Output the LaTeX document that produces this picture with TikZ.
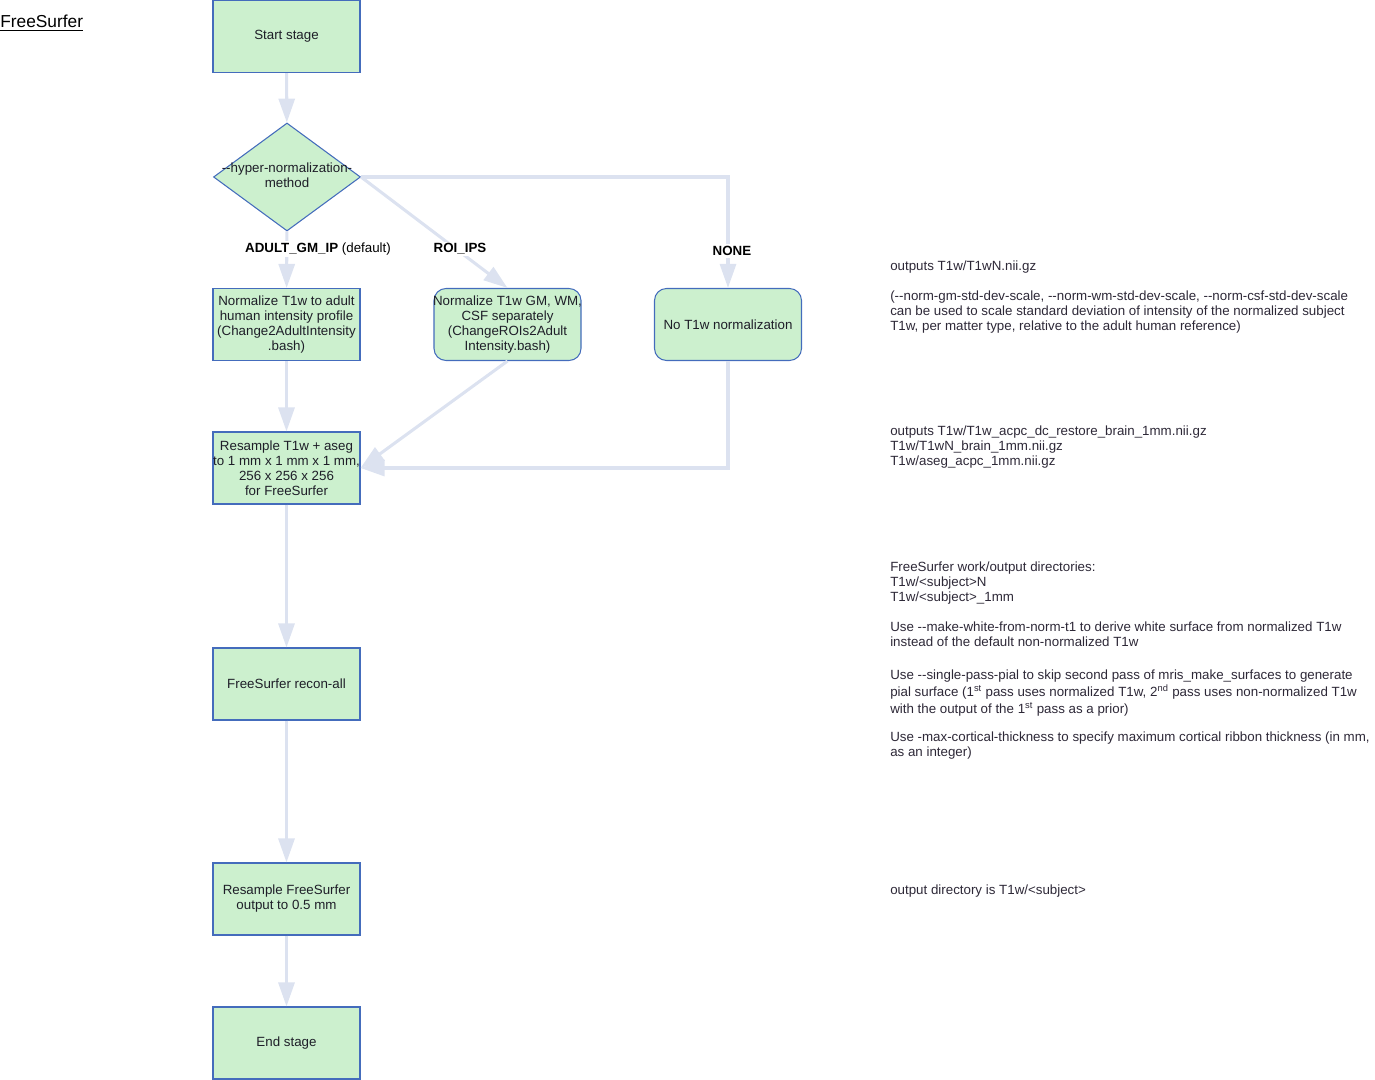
\documentclass[tikz,border=0pt]{standalone}
\usepackage{fontspec}
\setmainfont[Ligatures=TeXOff]{Liberation Sans}
\usetikzlibrary{arrows.meta,shapes.geometric}
\definecolor{boxfill}{RGB}{204,240,206}
\definecolor{boxline}{RGB}{68,108,188}
\definecolor{arr}{RGB}{220,226,240}
\definecolor{txt}{RGB}{30,30,40}
\definecolor{notetxt}{RGB}{45,40,55}
\newcommand\bxfont{\fontsize{10pt}{11.25pt}\selectfont}
\newcommand\ntfont{\fontsize{10pt}{11.25pt}\selectfont}
\begin{document}
\begin{tikzpicture}[x=0.75pt,y=-0.75pt,
  box/.style={draw=boxline, fill=boxfill, line width=0.8pt,
    minimum width=110.25pt, minimum height=54pt, inner xsep=-4pt, inner ysep=0pt,
    align=center, font=\bxfont, text=txt},
  rbox/.style={box, rounded corners=9pt},
  dshape/.style={diamond, draw=boxline, fill=boxfill, line width=0.8pt,
    minimum width=110.25pt, minimum height=81pt, inner sep=0pt},
  conn/.style={draw=arr, line width=2.3pt, -{Triangle[length=18pt,width=12pt]}},
  lab/.style={font=\bxfont, inner xsep=2pt, inner ysep=1.5pt, fill=white, text=black},
  note/.style={anchor=north west, inner sep=0pt, align=left, font=\ntfont, text=notetxt}]
\useasboundingbox (0,0) rectangle (1375,1080);

\node[anchor=base west, inner sep=0pt, font=\fontsize{13pt}{15pt}\selectfont] (title) at (0,28) {\underline{FreeSurfer}};

\node[box] (start) at (286.5,36.5) {Start stage};
\node[dshape] (dia) at (287,177) {};
\node[inner sep=0pt, align=center, font=\bxfont, text=txt] (dialab) at (287,175) {--hyper-normalization-\\method};

\node[box] (n1) at (286.5,324.5) {Normalize T1w to adult\\human intensity profile\\(Change2AdultIntensity\\.bash)};
\node[rbox] (n2) at (507.5,324.5) {Normalize T1w GM, WM,\\CSF separately\\(ChangeROIs2Adult\\Intensity.bash)};
\node[rbox] (n3) at (728,324.5) {No T1w normalization};
\node[box] (rs) at (286.5,468) {Resample T1w + aseg\\to 1 mm x 1 mm x 1 mm,\\256 x 256 x 256\\for FreeSurfer};
\node[box] (fs) at (286.5,684) {FreeSurfer recon-all};
\node[box] (rfs) at (286.5,899) {Resample FreeSurfer\\output to 0.5 mm};
\node[box] (end) at (286.5,1043) {End stage};

\draw[conn] (start) -- (dia);
\draw[conn] (dia) -- (n1);
\draw[conn] (dia.east) -- (n2.north);
\draw[conn] (dia.east) -| (n3.north);
\draw[conn] (n1) -- (rs);
\draw[conn] (n2.south) -- (rs.east);
\draw[conn] (n3.south) |- (rs.east);
\draw[conn] (rs) -- (fs);
\draw[conn] (fs) -- (rfs);
\draw[conn] (rfs) -- (end);

\node[lab] (l1) at (318,249) {\textbf{ADULT\_GM\_IP} (default)};
\node[lab] (l2) at (460,249) {\textbf{ROI\_IPS}};
\node[lab] (l3) at (732,251) {\textbf{NONE}};

\node[note] (t1) at (890,260) {\strut outputs T1w/T1wN.nii.gz};
\node[note] (t2) at (890,290) {\strut(--norm-gm-std-dev-scale, --norm-wm-std-dev-scale, --norm-csf-std-dev-scale\\can be used to scale standard deviation of intensity of the normalized subject\\T1w, per matter type, relative to the adult human reference)};
\node[note] (t3) at (890,425) {\strut outputs T1w/T1w\_acpc\_dc\_restore\_brain\_1mm.nii.gz\\T1w/T1wN\_brain\_1mm.nii.gz\\T1w/aseg\_acpc\_1mm.nii.gz};
\node[note] (t4) at (890,561) {\strut FreeSurfer work/output directories:\\T1w/<subject>N\\T1w/<subject>\_1mm};
\node[note] (t5) at (890,621) {\strut Use --make-white-from-norm-t1 to derive white surface from normalized T1w\\instead of the default non-normalized T1w};
\node[note, font=\fontsize{10pt}{12.75pt}\selectfont] (t6) at (890,667) {\strut Use --single-pass-pial to skip second pass of mris\_make\_surfaces to generate\\pial surface (1\textsuperscript{st} pass uses normalized T1w, 2\textsuperscript{nd} pass uses non-normalized T1w\\with the output of the 1\textsuperscript{st} pass as a prior)};
\node[note] (t7) at (890,731) {\strut Use -max-cortical-thickness to specify maximum cortical ribbon thickness (in mm,\\as an integer)};
\node[note] (t8) at (890,884) {\strut output directory is T1w/<subject>};
\end{tikzpicture}
\end{document}
